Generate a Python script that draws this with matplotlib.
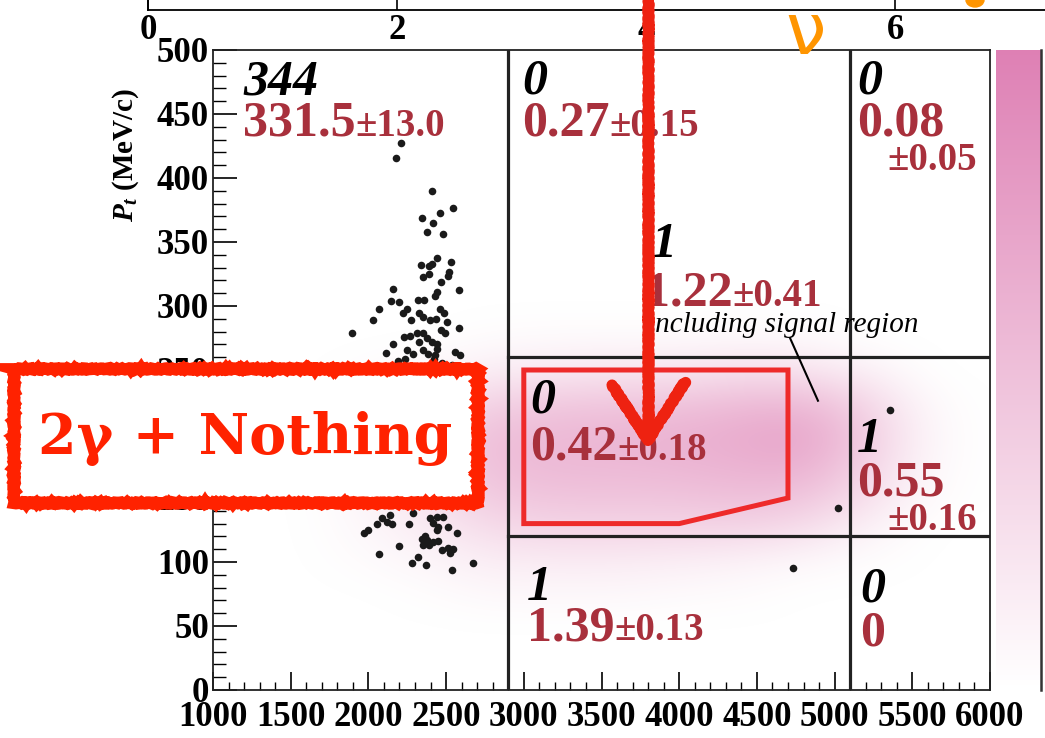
import numpy as np
import matplotlib.pyplot as plt
from matplotlib.colors import LinearSegmentedColormap
from matplotlib.patches import Rectangle, Polygon, Ellipse
from matplotlib.lines import Line2D
from matplotlib.transforms import Affine2D

plt.rcParams['font.family'] = ['Liberation Serif', 'DejaVu Serif']
plt.rcParams['mathtext.fontset'] = 'custom'
plt.rcParams['mathtext.it'] = 'Liberation Serif:italic:bold'
plt.rcParams['mathtext.rm'] = 'Liberation Serif:bold'

W, H = 1045, 738

# selected events (E in MeV, Pt in MeV/c)
evt_e = [2208, 2178, 2407, 2542, 2461, 2345, 2414, 2379, 2478, 2443, 2530, 2337,
         2392, 2407, 2521, 2514, 2388, 2349, 2465, 2581, 2156, 2439, 2429, 2321,
         2358, 2143, 2197, 2068, 2250, 2221, 2461, 2486, 2324, 2353, 2396, 2435,
         2508, 2030, 2276, 1894, 2585, 2467, 2493, 2229, 2268, 2315, 2353, 2375,
         2407, 2439, 2156, 2111, 2250, 2289, 2328, 2353, 2386, 2429, 2439, 2189,
         2236, 2557, 2589, 2424, 2472, 2536, 2139,
         2086, 2118, 2150, 2053, 1974, 1995, 2263, 2396, 2439, 2482, 2418, 2439,
         2450, 2514, 2572, 2364, 2343, 2375, 2418, 2450, 2349, 2392, 2199, 2472,
         2514, 2546, 2525, 2068, 2321, 2279, 2369, 2536, 2675, 2139, 2289,
         5357, 5022, 4732]
evt_pt = [427.6, 415.4, 389.8, 376.3, 373.0, 368.5, 365.0, 357.8, 356.5, 337.3, 334.1, 331.8,
          331.5, 332.8, 326.8, 323.7, 324.8, 322.4, 319.0, 312.3, 313.0, 311.2, 308.0, 304.7,
          304.7, 303.9, 303.1, 297.9, 297.9, 294.3, 297.7, 294.3, 294.8, 291.6, 289.0, 289.8,
          287.3, 288.8, 289.0, 278.7, 283.0, 281.3, 279.2, 275.5, 276.6, 278.7, 279.2, 274.8,
          272.1, 270.3, 270.3, 263.5, 265.6, 262.3, 272.1, 265.6, 262.5, 261.7, 266.2, 257.3,
          258.4, 264.3, 261.7, 258.4, 255.2, 253.9, 252.6,
          134.1, 131.5, 129.7, 129.7, 122.9, 125.0, 129.7, 134.1, 135.4, 134.9, 130.2, 125.0,
          127.1, 127.6, 122.4, 120.5, 117.7, 117.2, 115.9, 116.6, 113.3, 113.3, 112.7, 109.4,
          110.7, 109.9, 107.3, 106.0, 103.7, 99.0, 97.7, 93.8, 99.0, 136.7, 138.0,
          219.0, 142.0, 95.3]

# box boundaries
e_cuts = [2900, 5100]
pt_cuts = [120, 260]

# signal region outline
sig_e = [3000, 4700, 4700, 4000, 3000]
sig_pt = [250, 250, 150, 130, 130]

# signal MC density, coarse grid (zero border all round)
dens_e = [1600, 2000, 2400, 2800, 3200, 3600, 4000, 4400, 4800, 5200, 5600, 6000]
dens_pt = [50, 75, 100, 125, 150, 175, 200, 225, 250, 275, 300]
dens = [
    [0.00, 0.00, 0.00, 0.00, 0.00, 0.00, 0.00, 0.00, 0.00, 0.00, 0.00, 0.00],
    [0.00, 0.00, 0.02, 0.06, 0.06, 0.06, 0.04, 0.03, 0.00, 0.00, 0.00, 0.00],
    [0.00, 0.03, 0.08, 0.14, 0.15, 0.15, 0.13, 0.10, 0.06, 0.02, 0.00, 0.00],
    [0.00, 0.06, 0.15, 0.28, 0.32, 0.32, 0.32, 0.32, 0.26, 0.10, 0.00, 0.00],
    [0.00, 0.08, 0.24, 0.42, 0.46, 0.46, 0.46, 0.50, 0.46, 0.26, 0.03, 0.00],
    [0.00, 0.10, 0.32, 0.50, 0.55, 0.55, 0.57, 0.60, 0.64, 0.36, 0.05, 0.00],
    [0.00, 0.10, 0.32, 0.50, 0.55, 0.57, 0.60, 0.66, 0.72, 0.42, 0.06, 0.00],
    [0.00, 0.06, 0.20, 0.36, 0.42, 0.44, 0.46, 0.52, 0.55, 0.33, 0.04, 0.00],
    [0.00, 0.02, 0.07, 0.14, 0.17, 0.20, 0.20, 0.25, 0.22, 0.12, 0.00, 0.00],
    [0.00, 0.00, 0.00, 0.03, 0.04, 0.04, 0.04, 0.05, 0.05, 0.00, 0.00, 0.00],
    [0.00, 0.00, 0.00, 0.00, 0.00, 0.00, 0.00, 0.00, 0.00, 0.00, 0.00, 0.00],
]

# per-box labels: observed, expected background +- error
cell_x = [1193, 2988, 5144, 3040, 5144, 3020, 5163]
count_y = [465, 466, 466, 217, 186, 70, 69]
counts = ['344', '0', '0', '0', '1', '1', '0']
est_y = [433, 433, 433, 180, 152, 39, 35]
est = ['331.5', '0.27', '0.08', '0.42', '0.55', '1.39', '0']
err = ['13.0', '0.15', '0.05', '0.18', '0.16', '0.13', '']
err_wrap = [False, False, True, False, True, False, False]

# signal region label
sig_count, sig_est, sig_err = '1', '1.22', '0.41'

red = '#a8303c'
pink = LinearSegmentedColormap.from_list('pk', ['#ffffff', '#de80b4'])

fig = plt.figure(figsize=(W / 100, H / 100), dpi=100)
pix = Affine2D().scale(1 / W, -1 / H).translate(0, 1) + fig.transFigure

ax = fig.add_axes([213 / W, 48 / H, 777 / W, 640 / H])
de = np.array(dens_e)
dp = np.array(dens_pt)
im = ax.imshow(np.array(dens), origin='lower', cmap=pink, vmin=0, vmax=1,
               interpolation='bicubic', aspect='auto', zorder=0,
               extent=[de[0] - 200, de[-1] + 200, dp[0] - 12.5, dp[-1] + 12.5])
ax.set_xlim(1000, 6000)
ax.set_ylim(0, 500)

for xc in e_cuts:
    ax.plot([xc, xc], [0, 500], color='#222222', lw=2.3, zorder=2)
for yc in pt_cuts:
    ax.plot([e_cuts[0], 6000], [yc, yc], color='#222222', lw=2.3, zorder=2)

ax.add_patch(Polygon(list(zip(sig_e, sig_pt)), closed=True, fill=False,
                     edgecolor='#ee2a2a', lw=3.6, zorder=3))

ax.scatter(evt_e, evt_pt, s=30, color='#1a1a1a', linewidths=0, zorder=4)

# labels in each box
for i in range(len(counts)):
    ax.text(cell_x[i], count_y[i], counts[i], fontsize=36, fontweight='bold',
            fontstyle='italic', color='black', zorder=5)
    t = ax.text(cell_x[i], est_y[i], est[i], fontsize=36, fontweight='bold',
                color=red, zorder=5)
    if err[i]:
        if err_wrap[i]:
            ax.text(5337, est_y[i] - 27, '\u00b1' + err[i], fontsize=28,
                    fontweight='bold', color=red, zorder=5)
        else:
            ax.annotate('\u00b1' + err[i], xy=(1, est_y[i]), xycoords=(t, 'data'),
                        va='baseline', ha='left', fontsize=28, fontweight='bold',
                        color=red, zorder=5)

ax.text(3825, 338, sig_count, fontsize=36, fontweight='bold', fontstyle='italic',
        color='black', zorder=5)
t = ax.text(3780, 300, sig_est, fontsize=36, fontweight='bold', color=red, zorder=5)
ax.annotate('\u00b1' + sig_err, xy=(1, 300), xycoords=(t, 'data'), va='baseline',
            ha='left', fontsize=28, fontweight='bold', color=red, zorder=5)
ax.text(3795, 280, 'including signal region', fontsize=21, fontstyle='italic',
        color='black', zorder=5)
ax.plot([4713, 4893], [275, 226], color='black', lw=1.5, zorder=5)

ax.xaxis.set_major_locator(plt.MultipleLocator(500))
ax.xaxis.set_minor_locator(plt.MultipleLocator(100))
ax.yaxis.set_major_locator(plt.MultipleLocator(50))
ax.yaxis.set_minor_locator(plt.MultipleLocator(10))
ax.tick_params(axis='x', which='major', direction='in', length=13, width=1.2, pad=8,
               labelsize=25)
ax.tick_params(axis='x', which='minor', direction='in', length=6, width=1.0)
ax.tick_params(axis='y', which='major', direction='in', length=17, width=1.2, pad=3,
               labelsize=25)
ax.tick_params(axis='y', which='minor', direction='in', length=9, width=1.0)
for lab in ax.get_xticklabels() + ax.get_yticklabels():
    lab.set_fontweight('bold')
for s in ax.spines.values():
    s.set_linewidth(1.3)
    s.set_color('#222222')

fig.text(126 / W, 1 - 88 / H, r'$P_t$ (MeV/c)', rotation=90, ha='center', va='top',
         fontsize=21, fontweight='bold')

# colour scale
cax = fig.add_axes([996 / W, 48 / H, 45 / W, 640 / H])
cb = fig.colorbar(im, cax=cax)
cb.outline.set_visible(False)
cb.set_ticks([])
cax.plot([1, 1], [0, 1], transform=cax.transAxes, color='#333333', lw=1.8,
         clip_on=False)

# energy axis of the upper panel
axt = fig.add_axes([148 / W, 1 - 10 / H, 1000 / W, 0.3])
axt.set_xlim(0, 1000 / 124.5)
axt.set_ylim(0, 1)
axt.set_xticks([0, 2, 4, 6])
axt.set_yticks([])
axt.tick_params(axis='x', direction='in', length=14, width=1.2, pad=3, labelsize=25)
for lab in axt.get_xticklabels():
    lab.set_fontweight('bold')
for s in axt.spines.values():
    s.set_linewidth(1.3)

# hand-drawn annotations
fig.text(806 / W, 1 - 34 / H, '\u03bd', ha='center', va='center',
         fontsize=52, family=['DejaVu Sans'], color='#ff9500', zorder=10)
fig.add_artist(Ellipse((975, 0), 18, 14, transform=pix, color='#ff9500', zorder=10))

for xs, ys in [([648, 648], [-5, 440]), ([612, 648, 685], [385, 440, 382])]:
    ln = Line2D(xs, ys, transform=pix, color='#ee2211', lw=8, zorder=10,
                solid_capstyle='round', solid_joinstyle='round')
    ln.set_sketch_params(scale=0.8, length=6, randomness=3)
    fig.add_artist(ln)

box = Rectangle((14, 369), 464, 134, transform=pix, facecolor='white',
                edgecolor='#ff2200', lw=8.5, zorder=10, joinstyle='miter')
box.set_sketch_params(scale=0.8, length=6, randomness=3)
fig.add_artist(box)
fig.text(245 / W, 1 - 438 / H, '2\u03b3 + Nothing', ha='center', va='center',
         fontsize=40, fontweight='bold', family=['DejaVu Serif'], color='#ff2200',
         zorder=11)

fig.savefig('out.png', dpi=100)
